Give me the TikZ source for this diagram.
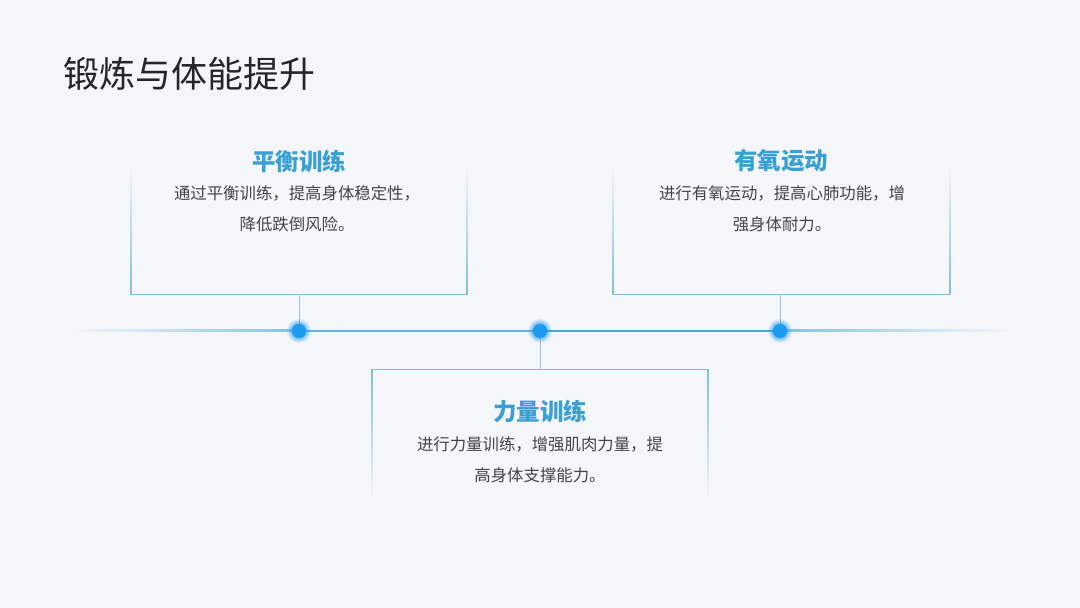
\documentclass[tikz,border=0pt]{standalone}
\usepackage{fontspec}
\newfontfamily\cjk{Noto Sans CJK SC}
\definecolor{bg}{HTML}{F4F6FA}
\definecolor{border}{HTML}{7CBFD5}
\definecolor{linec}{HTML}{4AAAD8}
\definecolor{dotc}{HTML}{1C9BF0}
\definecolor{ttl}{HTML}{3A9FD2}
\definecolor{body}{HTML}{454545}
\definecolor{conn}{HTML}{9DC3D2}
\tikzset{
  x=1pt,y=1pt,
  boxnode/.style={minimum width=336pt,minimum height=129pt,inner sep=0pt,draw=none},
  dotnode/.style={circle,minimum size=14pt,inner sep=0pt,fill=dotc},
  edge/.style={draw=border,line width=1.2pt},
  connector/.style={draw=conn,line width=0.9pt},
  boxtitle/.style={font=\cjk\bfseries\fontsize{23.5}{28}\selectfont,text=ttl},
  boxbody/.style={font=\cjk\fontsize{16.4}{31}\selectfont,text=body,align=center},
}
\begin{document}
\begin{tikzpicture}
\useasboundingbox (0,0) rectangle (1080,608);
\fill[bg] (0,0) rectangle (1080,608);

% main title
\node[anchor=west,font=\cjk\fontsize{36}{42}\selectfont,text=black!85] (title) at (60,534) {锻炼与体能提升};

% timeline
\shade[left color=bg,right color=linec!70] (70,276) rectangle (299,278.4);
\fill[linec!85] (299,276) rectangle (540,278.4);
\fill[linec] (540,276) rectangle (780,278.4);
\shade[left color=linec!70,right color=bg] (780,276) rectangle (1012,278.4);

% boxes
\node[boxnode] (b1) at (299,378.5) {};
\node[boxnode] (b2) at (781.5,378.5) {};
\node[boxnode] (b3) at (540,173.5) {};

% top boxes: faded sides, solid bottom
\foreach \b in {b1,b2}{
  \shade[top color=bg,bottom color=border] ([xshift=-0.6pt]\b.north west) rectangle ([xshift=0.6pt]\b.south west);
  \shade[top color=bg,bottom color=border] ([xshift=-0.6pt]\b.north east) rectangle ([xshift=0.6pt]\b.south east);
  \draw[edge] (\b.south west) -- (\b.south east);
}
% bottom box: solid top, faded sides
\shade[top color=border,bottom color=bg] ([xshift=-0.6pt]b3.north west) rectangle ([xshift=0.6pt]b3.south west);
\shade[top color=border,bottom color=bg] ([xshift=-0.6pt]b3.north east) rectangle ([xshift=0.6pt]b3.south east);
\draw[edge] (b3.north west) -- (b3.north east);

% dots
\node[dotnode] (d1) at (299,277) {};
\node[dotnode] (d2) at (540,277) {};
\node[dotnode] (d3) at (780,277) {};

% connectors
\draw[connector] (b1.south) -- (d1.north);
\draw[connector] (d3.north |- b2.south) -- (d3.north);
\draw[connector] (d2.south) -- (b3.north);

% glow
\foreach \d in {d1,d2,d3}{
  \fill[dotc,opacity=0.12] (\d) circle (12);
  \fill[dotc,opacity=0.18] (\d) circle (10.5);
  \fill[dotc,opacity=0.3] (\d) circle (9);
  \fill[dotc] (\d) circle (7);
}

% texts
\node[boxtitle] (t1) at (299,447) {平衡训练};
\node[boxbody,anchor=north] (x1) at (297,426) {通过平衡训练，提高身体稳定性，\\降低跌倒风险。};
\node[boxtitle] (t2) at (781,447) {有氧运动};
\node[boxbody,anchor=north] (x2) at (782,426) {进行有氧运动，提高心肺功能，增\\强身体耐力。};
\node[boxtitle] (t3) at (540,197) {力量训练};
\node[boxbody,anchor=north] (x3) at (540,175) {进行力量训练，增强肌肉力量，提\\高身体支撑能力。};
\end{tikzpicture}
\end{document}
